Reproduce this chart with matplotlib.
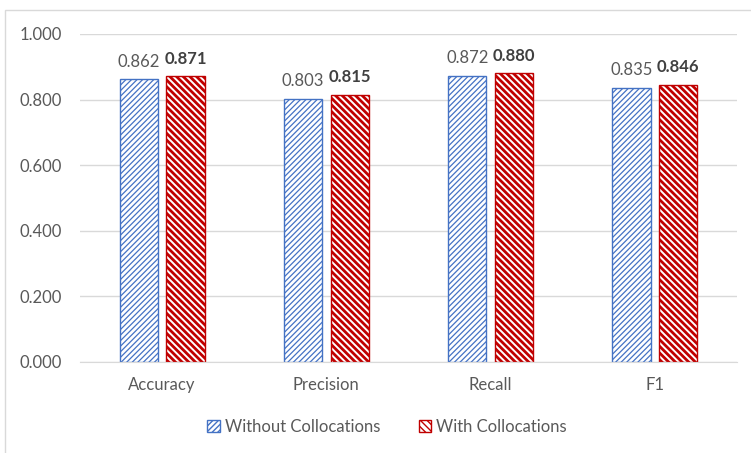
import numpy as np
import matplotlib
matplotlib.use('Agg')
import matplotlib.pyplot as plt
from matplotlib.patches import Rectangle
from matplotlib.ticker import FormatStrFormatter

plt.rcParams['font.family'] = ['Lato', 'DejaVu Sans']

metrics = ['Accuracy', 'Precision', 'Recall', 'F1']
without_colloc = [0.862, 0.803, 0.872, 0.835]
with_colloc = [0.871, 0.815, 0.880, 0.846]
series_names = ['Without Collocations', 'With Collocations']
y_ticks = [0.0, 0.2, 0.4, 0.6, 0.8, 1.0]

W, H = 751, 453
fig = plt.figure(figsize=(W / 100, H / 100), dpi=100)
fig.patch.set_facecolor('white')

# light frame around the chart area
fig.patches.append(Rectangle((5 / W, -0.1), 1.1, 1.1 - 10 / H,
                             transform=fig.transFigure, fill=False,
                             edgecolor='#D9D9D9', linewidth=1.0))

ax = fig.add_axes([80 / W, 1 - 362 / H, (737 - 80) / W, (362 - 34) / H])

x = np.arange(len(metrics))
width = 0.232
off = 0.142

blue = '#4472C4'
red = '#C00000'

b1 = ax.bar(x - off, without_colloc, width, facecolor='white', edgecolor=blue,
            hatch='//////', linewidth=1.0, label=series_names[0], zorder=3)
b2 = ax.bar(x + off, with_colloc, width, facecolor='white', edgecolor=red,
            hatch='\\' * 5, linewidth=1.0, label=series_names[1], zorder=3)
for p in b1:
    p.set_hatch_linewidth(0.9)
for p in b2:
    p.set_hatch_linewidth(2.0)

for xi, v in zip(x - off, without_colloc):
    ax.annotate('%.3f' % v, (xi, v), xytext=(0, 7), textcoords='offset points',
                ha='center', va='bottom', fontsize=12, color='#595959')
for xi, v in zip(x + off, with_colloc):
    ax.annotate('%.3f' % v, (xi, v), xytext=(0, 7), textcoords='offset points',
                ha='center', va='bottom', fontsize=12, color='#404040',
                fontweight='bold')

ax.set_xlim(-0.5, len(metrics) - 0.5)
ax.set_ylim(0, 1.0)
ax.set_yticks(y_ticks)
ax.yaxis.set_major_formatter(FormatStrFormatter('%.3f'))
ax.set_xticks(x)
ax.set_xticklabels(metrics)
ax.tick_params(axis='both', length=0, labelsize=12, labelcolor='#595959')
ax.tick_params(axis='y', pad=13)
ax.tick_params(axis='x', pad=11)

ax.grid(axis='y', color='#D9D9D9', linewidth=1.0, zorder=0)
for s in ['top', 'right', 'left']:
    ax.spines[s].set_visible(False)
ax.spines['bottom'].set_color('#D9D9D9')
ax.spines['bottom'].set_zorder(4)

leg = fig.legend(handles=[b1, b2], loc='center', bbox_to_anchor=(387 / W, 1 - 427 / H),
                 ncol=2, frameon=False, fontsize=12, handlelength=0.75,
                 handleheight=0.75, handletextpad=0.3, columnspacing=2.3,
                 labelcolor='#595959')

fig.savefig('out.png', dpi=100)
